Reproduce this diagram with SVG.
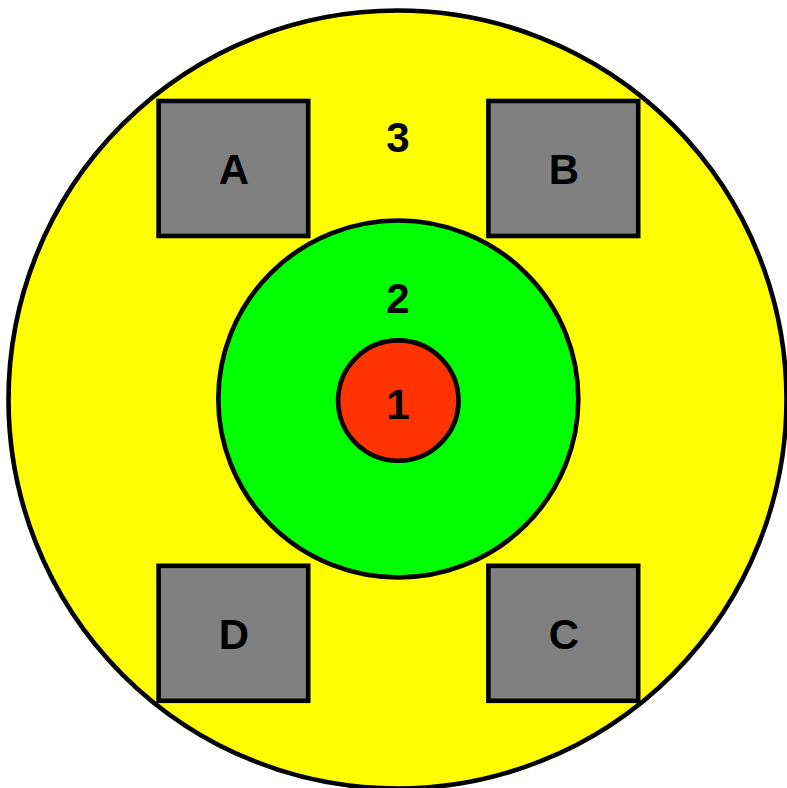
<svg xmlns="http://www.w3.org/2000/svg" width="787" height="788" viewBox="0 0 787 788">
<style>
.ln{stroke:#000;stroke-width:4.6}
.sq{fill:#808080}
.lb{font-family:"Liberation Sans",Arial,sans-serif;font-weight:bold;font-size:42px;text-anchor:middle;fill:#000}
</style>
<rect width="787" height="788" fill="#fff"/>
<g id="zone3">
<circle class="ln" cx="397.5" cy="399.5" r="389" fill="#ffff00"/>
<text class="lb" x="398" y="152">3</text>
</g>
<g id="nodeA">
<rect class="ln sq" x="158.6" y="101" width="149.6" height="135"/>
<text class="lb" x="234" y="183.5">A</text>
</g>
<g id="nodeB">
<rect class="ln sq" x="488.4" y="101" width="149.8" height="135"/>
<text class="lb" x="564" y="183.5">B</text>
</g>
<g id="nodeD">
<rect class="ln sq" x="158.6" y="565.8" width="149.6" height="135"/>
<text class="lb" x="234" y="649">D</text>
</g>
<g id="nodeC">
<rect class="ln sq" x="488.4" y="565.8" width="149.8" height="135"/>
<text class="lb" x="564" y="649">C</text>
</g>
<g id="zone2">
<ellipse class="ln" cx="398.3" cy="399" rx="180" ry="178.5" fill="#00ff00"/>
<text class="lb" x="398" y="312.5">2</text>
</g>
<g id="zone1">
<circle class="ln" cx="398.3" cy="400.6" r="60.2" fill="#ff3300"/>
<text class="lb" x="398" y="418.5">1</text>
</g>
<g id="connectors"/>
</svg>
